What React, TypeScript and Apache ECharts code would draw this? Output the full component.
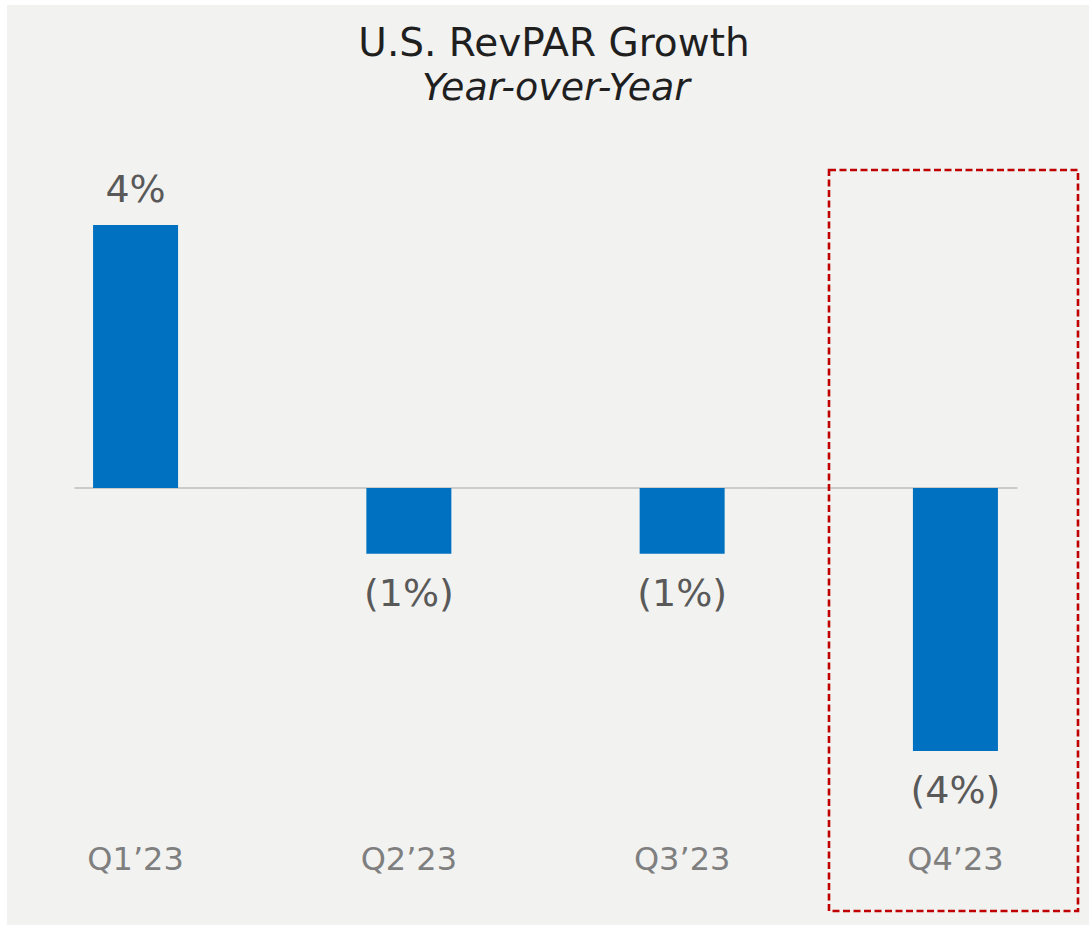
import React, { useEffect, useRef } from "react";
import * as echarts from "echarts";

const categories = ["Q1\u201923", "Q2\u201923", "Q3\u201923", "Q4\u201923"];
const growth = [4, -1, -1, -4];
const valueLabels = ["4%", "(1%)", "(1%)", "(4%)"];

const FONT = "'DejaVu Sans', 'Noto Sans', sans-serif";

export default function App() {
  const ref = useRef<HTMLDivElement>(null);
  useEffect(() => {
    document.body.style.margin = "0";
    const chart = echarts.init(ref.current!, null, { renderer: "svg" });
    const xMin = -0.2216;
    const xMax = 3.2253;
    chart.setOption({
      animation: false,
      backgroundColor: "#ffffff",
      grid: { left: 75, right: 72, top: 159.25, bottom: 88.5 },
      xAxis: [
        {
          type: "value",
          min: xMin,
          max: xMax,
          axisLine: { show: true, onZero: true, lineStyle: { color: "#bfbfbf", width: 1.5 } },
          axisTick: { show: false },
          axisLabel: { show: false },
          splitLine: { show: false },
        },
        {
          type: "value",
          min: xMin,
          max: xMax,
          position: "bottom",
          axisLine: { show: false, onZero: false },
          axisTick: { show: false },
          splitLine: { show: false },
          axisLabel: {
            show: true,
            customValues: categories.map((_, i) => i),
            formatter: (v: number) => categories[Math.round(v)] ?? "",
            color: "#7f7f7f",
            fontSize: 32,
            fontFamily: FONT,
            margin: 6,
          },
        },
      ],
      yAxis: {
        type: "value",
        min: -5.3,
        max: 5,
        show: false,
        splitLine: { show: false },
      },
      series: [
        {
          type: "bar",
          xAxisIndex: 0,
          barWidth: 85,
          itemStyle: { color: "#0070c0" },
          data: growth.map((v, i) => ({
            value: [i, v],
            label: {
              show: true,
              position: v >= 0 ? "top" : "bottom",
              distance: v >= 0 ? 17 : 20,
              formatter: valueLabels[i],
              color: "#595959",
              fontSize: 38,
              fontFamily: FONT,
            },
          })),
        },
      ],
      graphic: [
        {
          type: "rect",
          z: -10,
          shape: { x: 7, y: 5, width: 1082, height: 920 },
          style: { fill: "#f2f2f1" },
          silent: true,
        },
        {
          type: "text",
          z: 10,
          x: 554,
          y: 42,
          style: {
            text: "U.S. RevPAR Growth",
            fill: "#1f1f1f",
            fontSize: 39,
            fontFamily: FONT,
            textAlign: "center",
            textVerticalAlign: "middle",
          },
        },
        {
          type: "text",
          z: 10,
          x: 556,
          y: 87,
          style: {
            text: "Year-over-Year",
            fill: "#1f1f1f",
            fontSize: 38,
            fontStyle: "italic",
            fontFamily: FONT,
            textAlign: "center",
            textVerticalAlign: "middle",
          },
        },
        {
          type: "rect",
          z: 100,
          shape: { x: 829, y: 170, width: 249, height: 741 },
          style: { fill: "none", stroke: "#c00000", lineWidth: 2.6, lineDash: [7, 3.5] },
          silent: true,
        },
      ],
    });
    return () => chart.dispose();
  }, []);
  return <div ref={ref} style={{ width: 1089, height: 925 }} />;
}
